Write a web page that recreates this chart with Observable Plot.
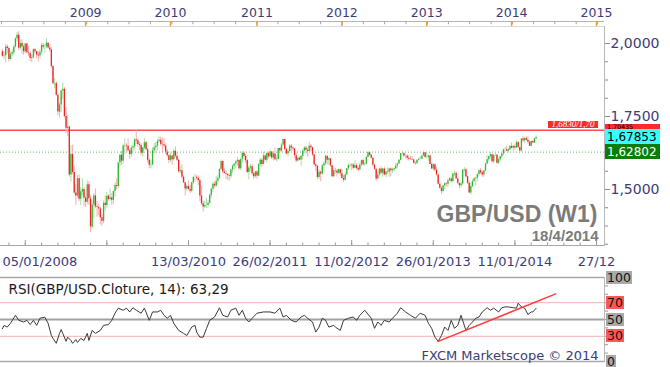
<!DOCTYPE html>
<html><head><meta charset="utf-8">
<script src="https://cdn.jsdelivr.net/npm/d3@7"></script>
<script src="https://cdn.jsdelivr.net/npm/@observablehq/plot@0.6"></script>
<style>
body{margin:0;background:#fff;}
#chart{position:relative;width:670px;height:367px;overflow:hidden;background:#fff;font-family:"DejaVu Sans",Verdana,sans-serif;}
.tag{position:absolute;font-family:"DejaVu Sans",sans-serif;font-size:12px;line-height:12px;height:15px;padding:1.6px 0 0 2px;box-sizing:border-box;white-space:nowrap;}
.lvl{position:absolute;font-family:"DejaVu Sans",sans-serif;font-size:12.5px;line-height:13px;height:13px;padding:0 1px;color:#111;white-space:nowrap;}
</style></head><body><div id="chart"></div>
<script>
// ---------- data (weekly bars, GBP/USD W1) ----------
const firstBar = "2008-01-05";   // date of bar 0, one bar per week
const firstOpen = 1.9720;        // open of bar 0 (later opens = previous close)
const closes = [
1.9560,1.9580,1.9880,1.9830,1.9450,1.9620,1.9680,1.9870,2.0160,2.0280,
1.9840,2.0000,1.9880,1.9720,1.9980,1.9680,1.9660,1.9490,1.9510,1.9790,
1.9720,1.9600,1.9570,1.9700,1.9930,1.9880,1.9880,2.0010,1.9850,1.9780,
1.9210,1.8620,1.8630,1.8230,1.7650,1.7890,1.8370,1.8430,1.7500,1.7100,
1.7140,1.5500,1.6200,1.5580,1.4880,1.4780,1.5370,1.4670,1.4920,1.5000,
1.4700,1.4560,1.5160,1.4680,1.3720,1.4470,1.4780,1.4410,1.4380,1.4330,
1.4030,1.3910,1.4530,1.4450,1.4770,1.4660,1.4710,1.4630,1.4930,1.5140,
1.5100,1.5910,1.6170,1.5970,1.6490,1.6500,1.6480,1.6330,1.6200,1.6410,
1.6460,1.6700,1.6670,1.6540,1.6510,1.6240,1.6420,1.6600,1.6360,1.6000,
1.5830,1.5840,1.6330,1.6430,1.6490,1.6640,1.6690,1.6550,1.6530,1.6490,
1.6280,1.6160,1.5990,1.6150,1.6020,1.6310,1.6140,1.6000,1.5610,1.5640,
1.5420,1.5230,1.5020,1.5100,1.5000,1.4940,1.5230,1.5410,1.5410,1.5380,
1.5300,1.4780,1.4510,1.4400,1.4450,1.4450,1.4530,1.4800,1.5010,1.5180,
1.5120,1.5280,1.5380,1.5690,1.5960,1.5600,1.5550,1.5520,1.5480,1.5450,
1.5670,1.5800,1.5870,1.5950,1.6000,1.5710,1.6040,1.6240,1.6130,1.5990,
1.5580,1.5740,1.5780,1.5540,1.5440,1.5600,1.5460,1.5850,1.6000,1.5860,
1.6150,1.6000,1.6230,1.6120,1.6280,1.6080,1.6220,1.6020,1.6030,1.6400,
1.6320,1.6520,1.6710,1.6370,1.6220,1.6300,1.6480,1.6420,1.6390,1.6160,
1.5980,1.6070,1.6010,1.6140,1.6320,1.6420,1.6340,1.6300,1.6480,1.6430,
1.6190,1.5840,1.5790,1.5410,1.5590,1.5530,1.5810,1.5880,1.6140,1.6000,
1.6050,1.5810,1.5440,1.5640,1.5630,1.5560,1.5680,1.5540,1.5380,1.5320,
1.5500,1.5710,1.5820,1.5810,1.5840,1.5730,1.5820,1.5720,1.5670,1.5840,
1.5990,1.5850,1.5860,1.6100,1.6260,1.6170,1.6070,1.5830,1.5690,1.5360,
1.5500,1.5700,1.5560,1.5700,1.5500,1.5600,1.5590,1.5700,1.5640,1.5680,
1.5710,1.5800,1.5870,1.6000,1.6230,1.6230,1.6150,1.6150,1.6070,1.6040,
1.6030,1.6010,1.5900,1.5880,1.6000,1.6030,1.6040,1.6150,1.6260,1.6100,
1.6100,1.6150,1.5860,1.5700,1.5850,1.5660,1.5500,1.5180,1.5040,1.4930,
1.5120,1.5200,1.5180,1.5300,1.5360,1.5270,1.5530,1.5550,1.5360,1.5210,
1.5130,1.5190,1.5660,1.5680,1.5440,1.5210,1.4880,1.5100,1.5270,1.5370,
1.5390,1.5510,1.5640,1.5570,1.5500,1.5640,1.5870,1.6020,1.6130,1.6190,
1.5950,1.6170,1.6170,1.5900,1.6020,1.6120,1.6220,1.6360,1.6360,1.6310,
1.6360,1.6480,1.6410,1.6470,1.6420,1.6610,1.6440,1.6320,1.6730,1.6670,
1.6750,1.6690,1.6620,1.6480,1.6640,1.6590,1.6740,1.6785];
const highs = [
1.9800,1.9720,1.9960,1.9950,1.9880,1.9720,1.9780,1.9940,2.0200,2.0370,
2.0400,2.0100,2.0130,1.9950,2.0000,2.0010,1.9900,1.9720,1.9600,1.9820,
1.9840,1.9730,1.9710,1.9770,1.9990,2.0000,1.9960,2.0160,2.0040,1.9950,
1.9860,1.9250,1.8810,1.8690,1.8300,1.7960,1.8400,1.8650,1.8490,1.7800,
1.7530,1.7170,1.6500,1.6520,1.5800,1.5160,1.5480,1.5500,1.5070,1.5380,
1.5070,1.4760,1.5290,1.5270,1.4800,1.4620,1.4860,1.5020,1.4580,1.4500,
1.4390,1.4130,1.4620,1.4780,1.4900,1.4820,1.5000,1.4850,1.4950,1.5230,
1.5360,1.5920,1.6200,1.6310,1.6550,1.6740,1.6570,1.6740,1.6390,1.6490,
1.6560,1.6730,1.7040,1.6730,1.6620,1.6580,1.6450,1.6740,1.6650,1.6420,
1.6070,1.6010,1.6440,1.6580,1.6610,1.6720,1.6800,1.6790,1.6750,1.6750,
1.6560,1.6370,1.6200,1.6250,1.6160,1.6380,1.6460,1.6260,1.6050,1.5770,
1.5850,1.5460,1.5240,1.5180,1.5290,1.5150,1.5250,1.5450,1.5520,1.5470,
1.5470,1.5340,1.5110,1.4600,1.4590,1.4700,1.4630,1.4850,1.5050,1.5240,
1.5260,1.5450,1.5470,1.5710,1.6000,1.5970,1.5710,1.5650,1.5530,1.5520,
1.5710,1.5840,1.5890,1.5990,1.6100,1.6000,1.6040,1.6300,1.6290,1.6200,
1.6040,1.5810,1.5860,1.5850,1.5580,1.5630,1.5640,1.5890,1.6060,1.6060,
1.6280,1.6200,1.6250,1.6280,1.6340,1.6300,1.6280,1.6400,1.6160,1.6410,
1.6420,1.6570,1.6740,1.6710,1.6420,1.6370,1.6540,1.6550,1.6460,1.6410,
1.6240,1.6110,1.6120,1.6160,1.6370,1.6470,1.6480,1.6410,1.6620,1.6540,
1.6450,1.6190,1.5890,1.5840,1.5680,1.5640,1.5850,1.5950,1.6170,1.6140,
1.6100,1.6060,1.5820,1.5730,1.5730,1.5690,1.5700,1.5700,1.5680,1.5480,
1.5580,1.5720,1.5880,1.5900,1.5880,1.5890,1.5990,1.5880,1.5770,1.5900,
1.6010,1.6050,1.5930,1.6140,1.6300,1.6280,1.6190,1.6100,1.5860,1.5700,
1.5600,1.5710,1.5780,1.5720,1.5750,1.5620,1.5740,1.5730,1.5740,1.5730,
1.5740,1.5900,1.5910,1.6020,1.6240,1.6310,1.6270,1.6180,1.6170,1.6170,
1.6130,1.6130,1.6050,1.5950,1.6010,1.6080,1.6130,1.6170,1.6310,1.6270,
1.6240,1.6170,1.6180,1.5910,1.5890,1.5870,1.5760,1.5520,1.5220,1.5100,
1.5140,1.5230,1.5230,1.5370,1.5410,1.5420,1.5560,1.5620,1.5610,1.5400,
1.5220,1.5260,1.5680,1.5750,1.5710,1.5460,1.5300,1.5230,1.5340,1.5400,
1.5400,1.5540,1.5690,1.5720,1.5620,1.5650,1.5890,1.6160,1.6140,1.6260,
1.6190,1.6180,1.6260,1.6190,1.6080,1.6130,1.6230,1.6380,1.6440,1.6470,
1.6410,1.6510,1.6600,1.6510,1.6530,1.6670,1.6650,1.6460,1.6740,1.6820,
1.6790,1.6800,1.6820,1.6670,1.6660,1.6680,1.6760,1.6840];
const lows = [
1.9520,1.9450,1.9340,1.9640,1.9370,1.9440,1.9560,1.9600,1.9850,2.0060,
1.9750,1.9780,1.9630,1.9600,1.9650,1.9640,1.9560,1.9380,1.9340,1.9470,
1.9640,1.9480,1.9360,1.9480,1.9620,1.9800,1.9670,1.9830,1.9800,1.9700,
1.9150,1.8580,1.8450,1.8190,1.7530,1.7450,1.7630,1.8080,1.7440,1.6900,
1.6810,1.5420,1.5250,1.5500,1.4820,1.4450,1.4700,1.4580,1.4450,1.4780,
1.4410,1.4380,1.4480,1.4460,1.3520,1.3650,1.4000,1.4340,1.4050,1.4100,
1.3790,1.3740,1.3830,1.4270,1.4350,1.4600,1.4600,1.4460,1.4480,1.4740,
1.4970,1.5040,1.5770,1.5820,1.5870,1.6190,1.6230,1.6280,1.6040,1.6090,
1.6250,1.6320,1.6550,1.6450,1.6330,1.6150,1.6110,1.6360,1.6320,1.5910,
1.5710,1.5710,1.5810,1.6220,1.6230,1.6320,1.6580,1.6480,1.6240,1.6420,
1.6200,1.6100,1.5890,1.5930,1.5840,1.5980,1.6080,1.5950,1.5560,1.5540,
1.5340,1.5190,1.4780,1.4930,1.4980,1.4860,1.4890,1.5160,1.5250,1.5310,
1.5130,1.4580,1.4460,1.4230,1.4350,1.4350,1.4360,1.4500,1.4690,1.4900,
1.5040,1.5080,1.5150,1.5340,1.5650,1.5530,1.5520,1.5340,1.5310,1.5290,
1.5370,1.5550,1.5670,1.5710,1.5800,1.5660,1.5640,1.5900,1.6030,1.5880,
1.5540,1.5330,1.5630,1.5470,1.5350,1.5390,1.5350,1.5450,1.5800,1.5750,
1.5840,1.5960,1.5900,1.6050,1.6070,1.6030,1.5970,1.5990,1.5950,1.6000,
1.6240,1.6270,1.6480,1.6320,1.6170,1.6110,1.6250,1.6310,1.6310,1.6060,
1.5910,1.5940,1.5990,1.5780,1.6010,1.6240,1.6210,1.6110,1.6270,1.6290,
1.6130,1.5820,1.5630,1.5330,1.5340,1.5270,1.5490,1.5640,1.5820,1.5840,
1.5830,1.5760,1.5420,1.5410,1.5530,1.5430,1.5510,1.5450,1.5360,1.5240,
1.5300,1.5480,1.5650,1.5760,1.5650,1.5680,1.5710,1.5650,1.5600,1.5650,
1.5780,1.5800,1.5800,1.5850,1.6080,1.6130,1.6040,1.5780,1.5650,1.5270,
1.5340,1.5420,1.5490,1.5420,1.5470,1.5400,1.5510,1.5410,1.5440,1.5550,
1.5610,1.5680,1.5710,1.5860,1.5980,1.6170,1.6100,1.6040,1.5990,1.5970,
1.5990,1.5990,1.5880,1.5830,1.5870,1.5970,1.6010,1.6020,1.6140,1.6070,
1.6040,1.5960,1.5850,1.5690,1.5630,1.5610,1.5460,1.5160,1.5000,1.4830,
1.4880,1.5000,1.5080,1.5070,1.5280,1.5210,1.5230,1.5440,1.5350,1.5180,
1.5010,1.5060,1.5150,1.5590,1.5390,1.5170,1.4860,1.4810,1.5060,1.5250,
1.5120,1.5260,1.5440,1.5510,1.5420,1.5420,1.5610,1.5850,1.5940,1.6050,
1.5910,1.5880,1.6130,1.5870,1.5860,1.5950,1.6060,1.6170,1.6280,1.6290,
1.6250,1.6330,1.6400,1.6300,1.6340,1.6410,1.6410,1.6250,1.6280,1.6600,
1.6580,1.6650,1.6550,1.6460,1.6470,1.6580,1.6570,1.6710];

// RSI(14): bar index -> value
const rsiBar = [0,1,3,5,8,10,13,15,17,19,
 21,23,26,28,30,31,33,35,36,37,
 39,40,42,43,45,46,48,50,52,53,
 55,57,60,62,65,67,69,71,74,76,
 78,80,82,85,87,90,92,95,97,99,
 101,103,105,108,111,113,116,118,119,121,
 123,125,127,130,133,135,138,140,143,145,
 147,149,151,153,156,160,164,167,170,172,
 174,177,180,183,185,187,190,192,194,196,
 198,200,203,204,207,209,212,215,217,219,
 222,226,228,230,232,234,237,239,242,244,
 247,250,253,256,259,261,263,265,267,269,
 271,273,275,277,279,281,284,286,288,290,
 292,294,297,299,301,304,306,308,310,313,
 315,316,318,320,322,324,325,327];
const rsiValue = [39,43,41,45.5,55,49,47,49,44,49,
 43,51.5,52.7,45.5,31,27.5,21.6,33.5,38,33.5,
 24,29,25,21.6,26,22.7,27.5,25,33.5,25,
 37,33.5,37,43,44,49,57.5,63.5,61,63.5,
 59,64,61,57.5,63.5,49,59,59,61,55,
 51.5,55,45.5,37,33.5,31,41,43,35,29,
 29,39,49,53,64,55,53,61,63.5,55,
 61,51.5,47,51.5,57.5,59,59,57.5,63.5,53,
 55,49,47,53,55,51.5,47,35,41,51.5,
 49,41,43,41,37,49,51.5,53,49,55,
 61,51.5,39.5,47,43,49,47,51.5,57.5,64,
 59,55,51.5,57.5,55,45.5,39.5,29,24,31,
 41,37,49,39.5,43,55,37,43,47,51.5,
 53,59,64,61,63.5,59,64,65,65,64,
 63.5,69.5,65,63.5,56,59,59,63.29];
const trendDates = ["2013-02-16","2014-07-05"];
const trendValues = [24, 80.5];

// axes / labels
const yearTickDates = ["2008-12-27","2009-12-26","2011-01-01","2011-12-31","2012-12-29","2013-12-28","2014-12-27"];
const yearLabels = ["2009","2010","2011","2012","2013","2014","2015"];
const dateLabelDates = ["2008-01-05","2010-03-13","2011-02-26","2012-02-11","2013-01-26","2014-01-11","2014-12-27"];
const dateLabels = ["05/01/2008","13/03/2010","26/02/2011","11/02/2012","26/01/2013","11/01/2014","27/12"];
const priceTicks = [1.5, 1.75, 2.0];
const rsiLevels = [100, 70, 50, 30, 0];
const resistance = 1.703, resistanceLabel = "1,6830/1,70";
const support = 1.628;
const priceTags = [1.70435, 1.67853, 1.62802];
const pairTitle = "GBP/USD (W1)", dateTitle = "18/4/2014";
const rsiTitle = "RSI(GBP/USD.Cloture, 14): 63,29";
const credit = "FXCM Marketscope © 2014";

// ---------- build ----------
const DAY = 864e5;
const D = s => new Date(s + "T00:00:00Z");
const t0 = D(firstBar);
const barDate = i => new Date(+t0 + i * 7 * DAY);
const bars = closes.map((c, i) => {
  const o = i ? closes[i - 1] : firstOpen;
  return {date: barDate(i), open: o, close: c,
          high: Math.max(highs[i], o, c), low: Math.min(lows[i], o, c), up: c >= o};
});
const rsi = rsiBar.map((b, i) => ({date: barDate(b), value: rsiValue[i]}));
const trend = trendDates.map((d, i) => ({date: D(d), value: trendValues[i]}));
const yearTicks = yearTickDates.map((d, i) => ({date: D(d), label: yearLabels[i]}));
const dateTicks = dateLabelDates.map((d, i) => ({date: D(d), label: dateLabels[i]}));
const quarterTicks = d3.utcMonth.every(3).range(D("2008-01-01"), D("2015-01-02"));
const minorBottom = d3.range(4, 365, 10).map(barDate);
const majorBottom = d3.range(14, 365, 50).map(barDate);
const minorPrice = d3.range(1.3125, 2.01, 0.0625);

const NAVY = "#3c3c78";
const xScale = () => ({type: "utc", domain: [t0, D("2014-12-27")], range: [1.9, 596], axis: null});
const svgStyle = "background:transparent;overflow:visible;font-family:'DejaVu Sans',sans-serif;";
const chart = document.getElementById("chart");
function place(el, top) {
  el.style.position = "absolute"; el.style.left = "0px"; el.style.top = top + "px";
  chart.appendChild(el);
}

// top year strip
const topStrip = Plot.plot({
  width: 670, height: 27, marginTop: 21, marginBottom: 1, marginLeft: 0, marginRight: 66,
  style: svgStyle, x: xScale(), y: {domain: [0, 1], axis: null},
  marks: [
    Plot.ruleY([1], {stroke: "#b4b4b4"}),
    Plot.ruleY([0], {stroke: "#dadada"}),
    Plot.ruleX(quarterTicks, {x: d => d, y1: 1, y2: 0.35, stroke: "#a4a4a4"}),
    Plot.ruleX(yearTicks, {x: "date", y1: 1, y2: 0, stroke: "#f0a028", strokeWidth: 1.5}),
    Plot.text(yearTicks, {x: "date", y: 1, text: "label", dy: -9, fill: NAVY, fontSize: 12.5, fontFamily: "DejaVu Sans"})
  ]
});
place(topStrip, 0);

// price panel
const pricePlot = Plot.plot({
  width: 670, height: 250, marginTop: 26, marginBottom: 5, marginLeft: 0, marginRight: 66,
  style: svgStyle, x: xScale(), y: {domain: [1.5, 2.0], range: [189, 43], label: null},
  marks: [
    Plot.ruleY([support], {stroke: "#62b862", strokeDasharray: "1,2"}),
    Plot.ruleY([resistance], {stroke: "#ff4d4d", strokeWidth: 1.6}),
    Plot.ruleX(bars, {x: "date", y1: "low", y2: "high", stroke: d => d.up ? "#a9dfa9" : "#f7adad", strokeWidth: 1}),
    Plot.ruleX(bars, {x: "date", y1: "open", y2: "close", stroke: d => d.up ? "#2fb52f" : "#ec2323", strokeWidth: 1.3}),
    Plot.axisY({anchor: "right", ticks: minorPrice, tickSize: 3, tickFormat: () => "", stroke: "#8a8a8a", label: null}),
    Plot.axisY({anchor: "right", ticks: priceTicks, tickSize: 5, tickPadding: 1, label: null,
      tickFormat: d => d.toFixed(4).replace(".", ","), fill: NAVY, stroke: "#8a8a8a", fontSize: 14, fontFamily: "DejaVu Sans"}),
    Plot.frame({anchor: "right", stroke: "#b8b8b8"}),
    Plot.text([pairTitle], {frameAnchor: "bottom-right", textAnchor: "end", lineAnchor: "middle", dx: -7, dy: -31,
      fontFamily: "Liberation Sans", fontWeight: "bold", fontSize: 23, fill: "#7b7b7b"}),
    Plot.text([dateTitle], {frameAnchor: "bottom-right", textAnchor: "end", lineAnchor: "middle", dx: -6, dy: -9,
      fontFamily: "Liberation Sans", fontWeight: "bold", fontSize: 15, fill: "#7b7b7b"})
  ]
});
place(pricePlot, 0);

// bottom date strip
const bottomStrip = Plot.plot({
  width: 670, height: 40, marginTop: 10, marginBottom: 25, marginLeft: 0, marginRight: 66,
  style: svgStyle, x: xScale(), y: {domain: [0, 1], axis: null},
  marks: [
    Plot.ruleY([0], {stroke: "#a8a8a8"}),
    Plot.ruleX(minorBottom, {x: d => d, y1: 0, y2: 0.5, stroke: "#9a9a9a"}),
    Plot.ruleX(majorBottom, {x: d => d, y1: 0, y2: 1, stroke: "#9a9a9a"}),
    Plot.text(dateTicks.slice(0, 1), {x: "date", y: 0, text: "label", dy: 16, textAnchor: "start", fill: NAVY, fontSize: 13, fontFamily: "DejaVu Sans"}),
    Plot.text(dateTicks.slice(1), {x: "date", y: 0, text: "label", dy: 16, fill: NAVY, fontSize: 13, fontFamily: "DejaVu Sans"})
  ]
});
place(bottomStrip, 230);

// RSI panel
const RSI_TOP = 265;
const rsiPlot = Plot.plot({
  width: 670, height: 102, marginTop: 12, marginBottom: 6, marginLeft: 0, marginRight: 66,
  style: svgStyle, x: xScale(), y: {domain: [0, 100], label: null},
  marks: [
    Plot.ruleY([70, 30], {stroke: "#f6b2b2"}),
    Plot.ruleY([50], {stroke: "#a2a2a2", strokeWidth: 2}),
    Plot.ruleY([100, 0], {stroke: "#a8a8a8", strokeWidth: 1.5}),
    Plot.axisY({anchor: "right", ticks: d3.range(10, 100, 10), tickSize: 3, tickFormat: () => "", stroke: "#9a9a9a", label: null}),
    Plot.frame({anchor: "right", stroke: "#b8b8b8"}),
    Plot.line(rsi, {x: "date", y: "value", stroke: "#3a3a3a", strokeWidth: 1}),
    Plot.line(trend, {x: "date", y: "value", stroke: "#ff3b3b", strokeWidth: 1.5}),
    Plot.text([rsiTitle], {frameAnchor: "top-left", textAnchor: "start", dx: 8, dy: 7, fontSize: 13.5, fill: "#1a1a1a", fontFamily: "DejaVu Sans"}),
    Plot.text([credit], {frameAnchor: "bottom-right", textAnchor: "end", dx: -6, dy: -2, fontSize: 13, fill: NAVY, fontFamily: "DejaVu Sans"})
  ]
});
place(rsiPlot, RSI_TOP);

// price tags on the right axis, positioned with the plot's y scale
const py = pricePlot.scale("y").apply;
const tagStyle = [["#ff2b2b", "#000"], ["#38ffff", "#000"], ["#0b7d0b", "#fff"]];
priceTags.forEach((v, i) => {
  const el = document.createElement("div");
  el.className = "tag";
  el.textContent = v.toFixed(5).replace(".", ",");
  const style = {left: "605px", width: "55px", top: (py(v) - 7.5) + "px",
    background: tagStyle[i][0], color: tagStyle[i][1]};
  if (i === 0) {
    // the first tag sits under the next one: only a thin strip of it shows
    Object.assign(style, {top: (py(v) - 4.9) + "px", height: "6.2px", lineHeight: "6.2px", fontSize: "6.3px", paddingTop: "0px"});
  }
  Object.assign(el.style, style);
  chart.appendChild(el);
});
// label of the resistance line
{
  const el = document.createElement("div");
  el.textContent = resistanceLabel;
  Object.assign(el.style, {position: "absolute", left: "548px", width: "50px", top: (py(resistance) - 8.6) + "px",
    height: "7px", lineHeight: "7.5px", background: "#ff2b2b", color: "#fff", textAlign: "center",
    fontFamily: "'Liberation Serif',serif", fontStyle: "italic", fontSize: "9px", whiteSpace: "nowrap"});
  chart.appendChild(el);
}
// RSI level boxes
const ry = rsiPlot.scale("y").apply;
rsiLevels.forEach(v => {
  const el = document.createElement("div");
  el.className = "lvl";
  el.textContent = String(v);
  Object.assign(el.style, {left: "606px", top: (RSI_TOP + ry(v) - 6.5) + "px",
    background: (v === 70 || v === 30) ? "#ff5656" : "#a9a9a9"});
  chart.appendChild(el);
});
</script>
</body></html>
